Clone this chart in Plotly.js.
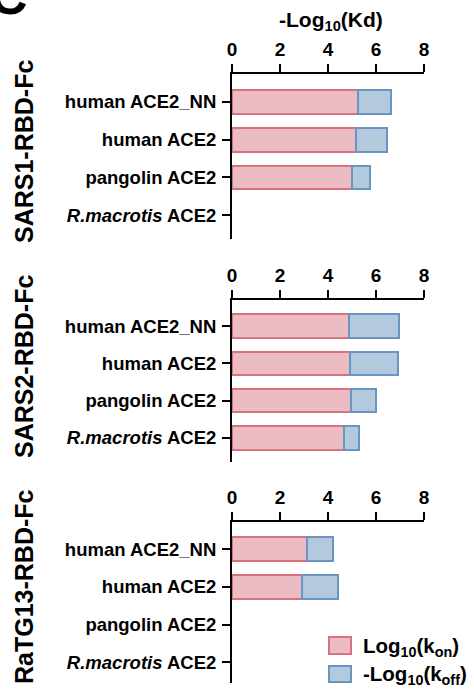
<!DOCTYPE html>
<html>
<head>
<meta charset="utf-8">
<script src="https://cdn.plot.ly/plotly-3.0.1.min.js"></script>
<style>html,body{margin:0;padding:0;background:#fff;}#chart{width:474px;height:692px;}</style>
</head>
<body>
<div id="chart"></div>
<script>
// ---- data ----
var receptors = ["human ACE2_NN", "human ACE2", "pangolin ACE2", "R.macrotis ACE2"];
var receptorLabels = ["human ACE2_NN", "human ACE2", "pangolin ACE2", "<i>R.macrotis</i> ACE2"];
var panels = ["SARS1-RBD-Fc", "SARS2-RBD-Fc", "RaTG13-RBD-Fc"];
// Log10(kon)
var kon_sars1  = [5.25, 5.17, 5.01, null];
var kon_sars2  = [4.86, 4.93, 4.97, 4.68];
var kon_ratg13 = [3.12, 2.93, null, null];
// -Log10(koff)
var koff_sars1  = [1.37, 1.30, 0.74, null];
var koff_sars2  = [2.09, 2.00, 1.01, 0.60];
var koff_ratg13 = [1.09, 1.47, null, null];
var xTicks = [0, 2, 4, 6, 8];

var konSets = [kon_sars1, kon_sars2, kon_ratg13];
var koffSets = [koff_sars1, koff_sars2, koff_ratg13];

var pinkFill = "#ecbcc5", pinkLine = "#d8737e";
var blueFill = "#b3c9de", blueLine = "#6896c0";
var FONT = "Liberation Sans, Arial, sans-serif";

var traces = [];
for (var p = 0; p < 3; p++) {
  var xa = p === 0 ? "x" : "x" + (p + 1);
  var ya = p === 0 ? "y" : "y" + (p + 1);
  traces.push({
    type: "bar", orientation: "h", y: receptors, x: konSets[p],
    xaxis: xa, yaxis: ya, width: 0.63, name: "Log10(kon)", showlegend: false,
    marker: {color: pinkFill, line: {color: pinkLine, width: 2}}
  });
  traces.push({
    type: "bar", orientation: "h", y: receptors, x: koffSets[p],
    xaxis: xa, yaxis: ya, width: 0.63, name: "-Log10(koff)", showlegend: false,
    marker: {color: blueFill, line: {color: blueLine, width: 2}}
  });
}

var W = 474, H = 692;
function py(v) { return 1 - v / H; }
var xDom = [232 / W, 424 / W];
// [axisTop px, axisBottom px, rangeTop, rangeBottom, titleCenter px]
var geo = [[74, 239, -0.74, 3.63, 152], [300, 462, -0.70, 3.65, 367], [522, 683, -0.72, 3.55, 587]];

var layout = {
  width: W, height: H,
  margin: {l: 0, r: 0, t: 0, b: 0},
  paper_bgcolor: "#fff", plot_bgcolor: "#fff",
  barmode: "stack", showlegend: false,
  font: {family: FONT, color: "#000"},
  annotations: [], shapes: []
};

for (var p = 0; p < 3; p++) {
  var xk = p === 0 ? "xaxis" : "xaxis" + (p + 1);
  var yk = p === 0 ? "yaxis" : "yaxis" + (p + 1);
  var yref = p === 0 ? "y" : "y" + (p + 1);
  var g = geo[p];
  layout[xk] = {
    domain: xDom, anchor: yref, side: "top", range: [0, 8],
    tickvals: xTicks, ticktext: xTicks.map(String),
    ticks: "outside", ticklen: 8, tickwidth: 2, tickcolor: "#000",
    showline: true, linewidth: 2, linecolor: "#000", showgrid: false, zeroline: false,
    tickfont: {family: FONT, size: 19, color: "#000", weight: "bold"},
    fixedrange: true
  };
  layout[yk] = {
    domain: [py(g[1]), py(g[0])], anchor: p === 0 ? "x" : "x" + (p + 1),
    range: [g[3], g[2]], type: "category",
    categoryorder: "array", categoryarray: receptors,
    tickvals: receptors, ticktext: receptorLabels,
    ticks: "outside", ticklen: 8, tickwidth: 2, tickcolor: "#000",
    ticklabelstandoff: 2,
    showline: true, linewidth: 2, linecolor: "#000", showgrid: false, zeroline: false,
    tickfont: {family: FONT, size: 18.5, color: "#000", weight: "bold"},
    fixedrange: true
  };
  layout.annotations.push({
    text: "<b>" + panels[p] + "</b>", xref: "paper", yref: "paper",
    x: 24 / W, y: py(g[4]), textangle: -90,
    showarrow: false, xanchor: "center", yanchor: "middle",
    font: {family: FONT, size: 25, color: "#000"}
  });
}

// top title
layout.annotations.push({
  text: "<b>-Log<sub>10</sub>(Kd)</b>", xref: "paper", yref: "paper",
  x: 331 / W, y: py(21), showarrow: false, xanchor: "center", yanchor: "middle",
  font: {family: FONT, size: 21, color: "#000"}
});
// panel letter (mostly cut off at the top edge, as in the source figure)
layout.annotations.push({
  text: "<b>C</b>", xref: "paper", yref: "paper",
  x: -12 / W, y: py(-4), showarrow: false, xanchor: "left", yanchor: "middle",
  font: {family: FONT, size: 52, color: "#000"}
});

// legend (boxes + labels)
var legendItems = [
  {fill: pinkFill, line: pinkLine, txt: "<b>Log<sub>10</sub>(k<sub>on</sub>)</b>", y0: 637, y1: 654},
  {fill: blueFill, line: blueLine, txt: "<b>-Log<sub>10</sub>(k<sub>off</sub>)</b>", y0: 666, y1: 682}
];
legendItems.forEach(function (it) {
  layout.shapes.push({
    type: "rect", xref: "paper", yref: "paper",
    x0: 329 / W, x1: 351 / W, y0: py(it.y1), y1: py(it.y0),
    fillcolor: it.fill, line: {color: it.line, width: 2}
  });
  layout.annotations.push({
    text: it.txt, xref: "paper", yref: "paper",
    x: 361 / W, y: py((it.y0 + it.y1) / 2 + 1), showarrow: false,
    xanchor: "left", yanchor: "middle",
    font: {family: FONT, size: 20.5, color: "#000"}
  });
});

Plotly.newPlot("chart", traces, layout, {displayModeBar: false, staticPlot: true});
</script>
</body>
</html>
